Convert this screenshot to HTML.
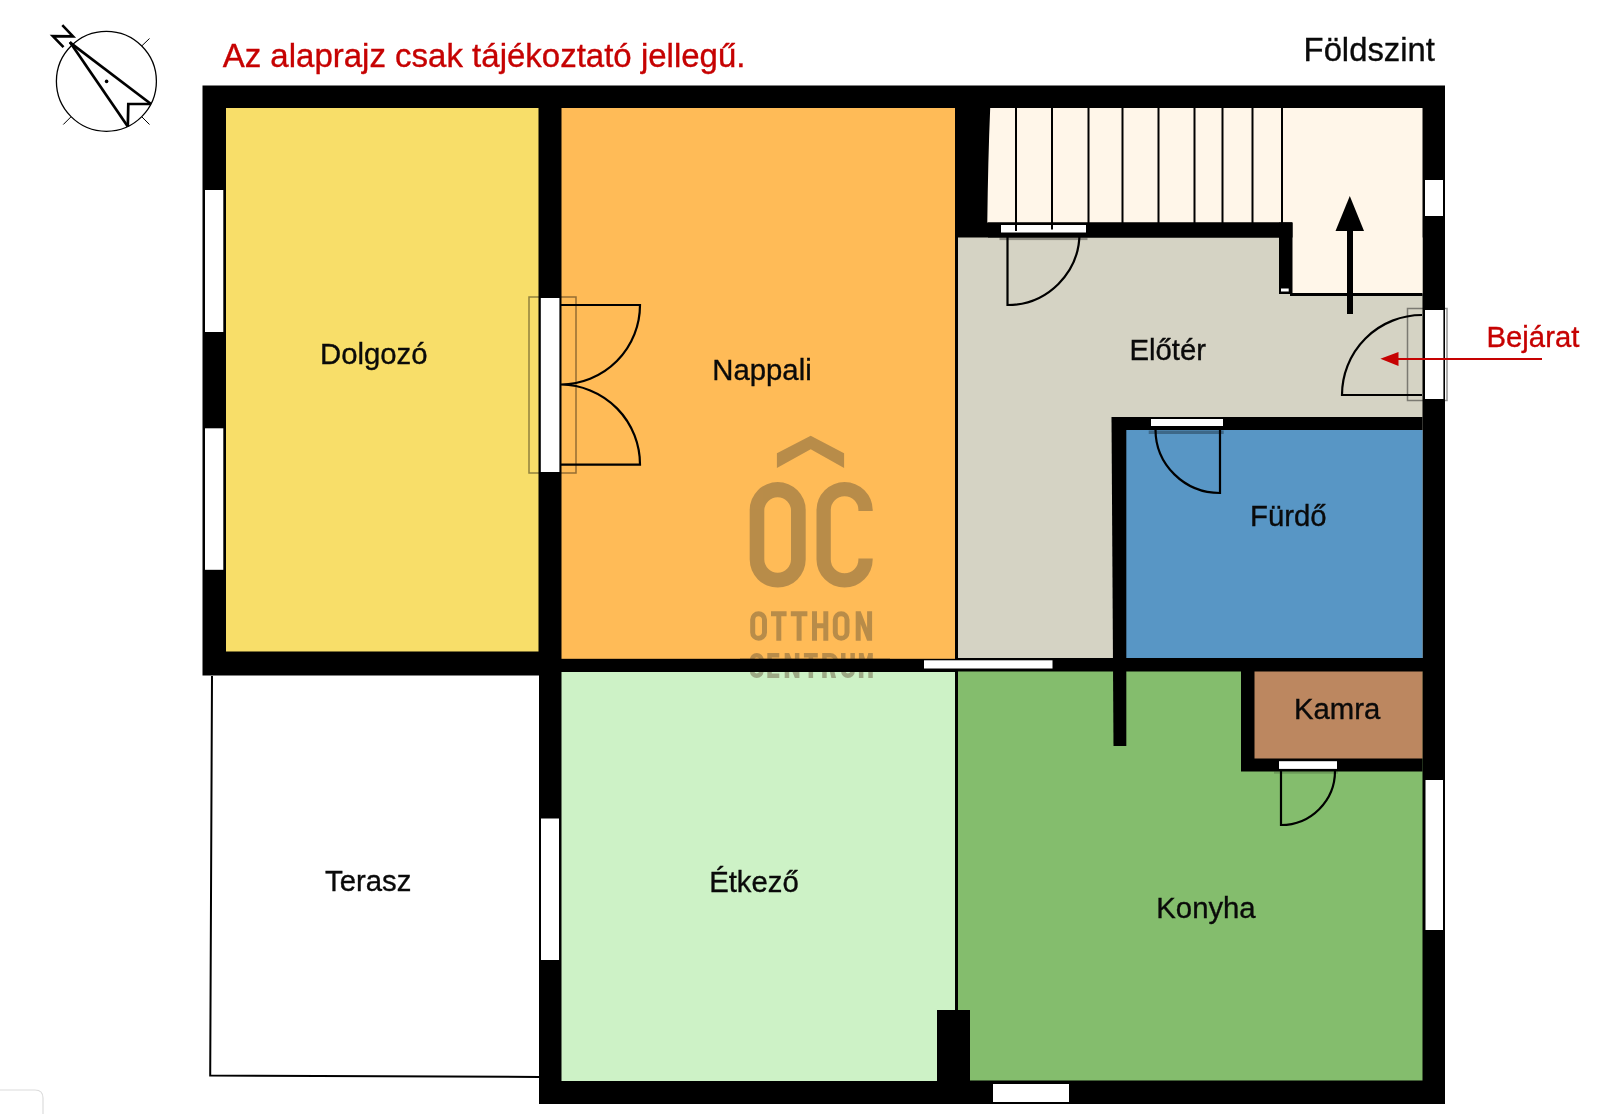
<!DOCTYPE html>
<html><head><meta charset="utf-8">
<style>
html,body{margin:0;padding:0;background:#fff;width:1622px;height:1114px;overflow:hidden}
svg{display:block;will-change:transform}
text{font-family:"Liberation Sans",sans-serif;fill:#0a0a0a;stroke:#0a0a0a;stroke-width:0.35}
</style></head><body>
<svg width="1622" height="1114" viewBox="0 0 1622 1114">
<rect x="0" y="0" width="1622" height="1114" fill="#fff"/>
<!-- faint corner -->
<path d="M0,1090 H35 Q43,1090 43,1098 V1114" fill="none" stroke="#dcdcdc" stroke-width="1.2"/>

<!-- compass -->
<g stroke="#000" fill="none">
<circle cx="106.4" cy="81.3" r="50" stroke-width="1.3"/>
<line x1="142" y1="45.7" x2="149.5" y2="38.5" stroke-width="1"/>
<line x1="142" y1="117" x2="149.5" y2="124.5" stroke-width="1"/>
<line x1="70.8" y1="117" x2="63.3" y2="124.5" stroke-width="1"/>
<path d="M69.8,42.4 L151,104" stroke-width="2.7"/><path d="M69.9,42 L127.8,126.6" stroke-width="2.7"/><path d="M151,104 L128.3,104 L127.8,126.6" stroke-width="2.7" stroke-miterlimit="2.2"/>
<path d="M62.3,25.2 L73,36.4 L52.8,36.1 L63.5,47.2" stroke-width="2.6" stroke-miterlimit="3"/>
</g>
<circle cx="106.6" cy="81.4" r="1.8" fill="#000"/>

<!-- titles -->
<text x="222.7" y="66.6" font-size="33" style="fill:#c60202;stroke:#c60202">Az alaprajz csak tájékoztató jellegű.</text>
<text x="1303.6" y="60.7" font-size="32.8">Földszint</text>

<!-- building footprint -->
<rect x="202.5" y="85.5" width="1242.5" height="590" fill="#000"/>
<rect x="539" y="651" width="906" height="453" fill="#000"/>

<!-- rooms -->
<rect x="226" y="108" width="312.5" height="543.5" fill="#f8de69"/>
<rect x="561.5" y="108" width="393.5" height="550.8" fill="#ffbb57"/>
<rect x="561.5" y="672" width="393.5" height="409" fill="#cdf2c6"/>
<rect x="958" y="237.5" width="464.5" height="420.5" fill="#d5d3c4"/>
<path d="M990.2,108 H1422.5 V294 H1292 V222.5 H987.3 Q988,160 990.2,108 Z" fill="#fff6e9"/>
<rect x="958" y="671.5" width="464.5" height="409" fill="#84bd6d"/>
<rect x="1126" y="430" width="296.5" height="228" fill="#5896c5"/>

<!-- internal walls -->
<rect x="988" y="222.5" width="304.5" height="15" fill="#000"/>
<rect x="1279" y="222.5" width="13.5" height="71.5" fill="#000"/>
<rect x="1290" y="293" width="132.5" height="3" fill="#000"/>
<rect x="1112" y="417" width="310.5" height="13" fill="#000"/>
<path d="M1111.5,417 H1126.3 V746 H1113.5 Z" fill="#000"/>
<rect x="1241" y="658" width="181.5" height="113.5" fill="#000"/>
<rect x="1254.5" y="671.5" width="168" height="87" fill="#bc8760"/>
<rect x="937" y="1010" width="33" height="71" fill="#000"/>

<!-- stairs lines -->
<g stroke="#000" stroke-width="2">
<line x1="1016" y1="108" x2="1016" y2="223"/>
<line x1="1052" y1="108" x2="1052" y2="223"/>
<line x1="1088.5" y1="108" x2="1088.5" y2="223"/>
<line x1="1122.5" y1="108" x2="1122.5" y2="223"/>
<line x1="1158.5" y1="108" x2="1158.5" y2="223"/>
<line x1="1194.5" y1="108" x2="1194.5" y2="223"/>
<line x1="1222.5" y1="108" x2="1222.5" y2="223"/>
<line x1="1252.5" y1="108" x2="1252.5" y2="223"/>
<line x1="1282" y1="108" x2="1282" y2="223"/>
</g>

<!-- logo -->
<g fill="#64543a" stroke="#64543a" opacity="0.45">
<path stroke="none" d="M776.9,453.3 L810.7,435.7 L844.1,453.3 V467.9 L810.7,449.3 L776.9,467.9 Z"/>
<path stroke="none" fill-rule="evenodd" d="M749.7,510 A28,28 0 0 1 805.7,510 V559.6 A28,28 0 0 1 749.7,559.6 Z M764.3,510.65 A13.35,13.35 0 0 1 791,510.65 V559.35 A13.35,13.35 0 0 1 764.3,559.35 Z"/>
<path stroke="none" d="M816.5,510.1 A28.1,28.1 0 0 1 872.7,510.1 V511 H858.4 V510.1 A13.8,13.8 0 0 0 830.8,510.1 V559.5 A13.8,13.8 0 0 0 858.4,559.5 V558.5 H872.7 V559.5 A28.1,28.1 0 0 1 816.5,559.5 Z"/>
<g fill="none" stroke-width="5">
<path d="M752.7,619.6 A5.9,5.9 0 0 1 764.5,619.6 V632.4 A5.9,5.9 0 0 1 752.7,632.4 Z"/>
<path d="M771,613.7 H786.6 M778.8,613.7 V640.8 M790.8,613.7 H807.4 M799.1,613.7 V640.8 M814.5,611.2 V640.8 M825.8,611.2 V640.8 M814.5,625.8 H825.8"/>
<path d="M835.3,619.6 A5.85,5.85 0 0 1 847,619.6 V632.4 A5.85,5.85 0 0 1 835.3,632.4 Z"/>
</g>
<path stroke="none" d="M855.7,611.2 H860.7 V640.8 H855.7 Z M867.1,611.2 H872.1 V640.8 H867.1 Z M855.7,611.2 H860.7 L872.1,640.8 H867.1 Z"/>
<g fill="none" stroke-width="4.5">
<path d="M761.45,661.5 V659.95 A4.7,4.7 0 0 0 752.05,659.95 V671.05 A4.7,4.7 0 0 0 761.45,671.05 V669.5"/>
<path d="M824.45,655.25 H830.3 A5.4,5.4 0 0 1 830.3,666.05 H824.45"/>
<path d="M843.25,653 V671.05 A4.7,4.7 0 0 0 852.65,671.05 V653"/>
<path d="M861.15,654 L865.85,669 L870.55,654" stroke-linejoin="bevel"/>
</g>
<path stroke="none" d="M767.3,653 H779.3 V657.5 H771.8 V663.3 H778.3 V667.8 H771.8 V673.5 H779.3 V678 H767.3 Z"/>
<path stroke="none" d="M784.7,653 H789.2 V678 H784.7 Z M794.9,653 H799.4 V678 H794.9 Z M784.7,653 H789.2 L799.4,678 H794.9 Z"/>
<path stroke="none" d="M803.9,653 H817.8 V657.5 H803.9 Z M808.6,653 H813.1 V678 H808.6 Z"/>
<path stroke="none" d="M822.2,653 H826.7 V678 H822.2 Z M828.5,666 H833 L836.1,678 H831.4 Z"/>
<path stroke="none" d="M858.9,653 H863.4 V678 H858.9 Z M868.3,653 H872.8 V678 H868.3 Z"/>
</g>
<rect x="740" y="658.8" width="150" height="13.2" fill="#000"/>

<!-- windows / openings -->
<g fill="#fff">
<rect x="205" y="190" width="18.3" height="142"/>
<rect x="205" y="428.3" width="18.3" height="141.5"/>
<rect x="541" y="818.5" width="18" height="141.5"/>
<rect x="540.8" y="298" width="18.6" height="174"/>
<rect x="1425" y="180" width="18" height="36"/>
<rect x="1425" y="310" width="18.4" height="89"/>
<rect x="1425.5" y="780" width="17.5" height="150"/>
<rect x="993" y="1084" width="76" height="18"/>
<rect x="1001" y="225" width="85" height="7.5"/>
<rect x="1151" y="419" width="72" height="7"/>
<rect x="1279" y="761.2" width="58" height="7.7"/>
<rect x="924" y="660.3" width="128.5" height="8.2"/>
<rect x="1281" y="288.5" width="7.7" height="3"/>
</g>

<!-- stair overlay lines and frames -->
<g stroke="#000" stroke-width="2"><line x1="1016" y1="222" x2="1016" y2="231"/><line x1="1052" y1="222" x2="1052" y2="229.5"/></g>
<rect x="999.5" y="237.5" width="88" height="2.6" fill="rgba(0,0,0,0.33)"/>
<rect x="1148.7" y="430.5" width="75" height="3.5" fill="rgba(0,0,0,0.3)"/>
<rect x="1274" y="771.5" width="64" height="2.2" fill="rgba(0,0,0,0.18)"/>
<!-- door frames -->
<g fill="none" stroke="rgba(0,0,0,0.42)" stroke-width="1.5">
<rect x="529" y="297" width="47" height="176"/>
<rect x="1407.5" y="308.5" width="39.5" height="92"/>
</g>

<!-- door leaves -->
<g fill="none" stroke="#000" stroke-width="2.2">
<path d="M1007.5,233 V305 A72,72 0 0 0 1079.5,233"/>
<path d="M1220,429.5 V493 A64.5,63.5 0 0 1 1155.5,429.5"/>
<path d="M1281,771 V825 A54,54 0 0 0 1335,771"/>
<path d="M1422,395 H1342 A80,80 0 0 1 1422,315"/>
<path d="M561,305 H640 A79.5,79.5 0 0 1 561,384.5 A80,80 0 0 1 640,464.7 H561"/>
</g>

<!-- stair arrow -->
<rect x="1347" y="230" width="6" height="84" fill="#000"/>
<path d="M1349.8,196 L1335.5,231 H1364 Z" fill="#000"/>

<!-- terrace -->
<path d="M212,676 L210.2,1075.5 L539,1077" fill="none" stroke="#000" stroke-width="2"/>

<!-- labels -->
<text x="320" y="364" font-size="29.3">Dolgozó</text>
<text x="712.3" y="380" font-size="29.3">Nappali</text>
<text x="1129.5" y="360.1" font-size="29.3">Előtér</text>
<text x="1250" y="526" font-size="29.3">Fürdő</text>
<text x="1293.9" y="718.5" font-size="29.3">Kamra</text>
<text x="709.2" y="892.2" font-size="29.3">Étkező</text>
<text x="1156.3" y="917.9" font-size="29.3">Konyha</text>
<text x="325" y="890.5" font-size="29.3">Terasz</text>
<text x="1486.5" y="347" font-size="29.3" style="fill:#c60202;stroke:#c60202">Bejárat</text>

<!-- red arrow -->
<line x1="1397" y1="358.9" x2="1542" y2="358.9" stroke="#c60202" stroke-width="2"/>
<path d="M1380.4,358.7 L1398.5,352 V366 Z" fill="#c60202"/>
</svg>
</body></html>
